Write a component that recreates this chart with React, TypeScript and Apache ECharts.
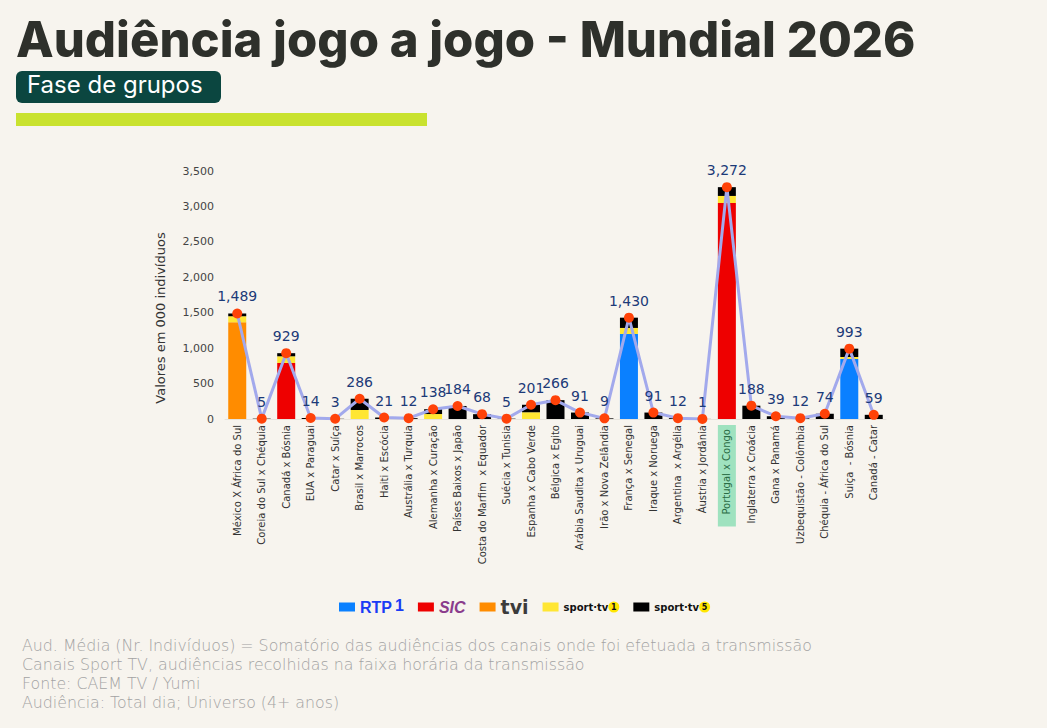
import React, { useEffect, useRef } from "react";
import * as echarts from "echarts";

const categories = [
  "México X África do Sul",
  "Coreia do Sul x Chéquia",
  "Canadá x Bósnia",
  "EUA x Paraguai",
  "Catar x Suíça",
  "Brasil x Marrocos",
  "Haiti x Escócia",
  "Austrália x Turquia",
  "Alemanha x Curação",
  "Países Baixos x Japão",
  "Costa do Marfim  x Equador",
  "Suécia x Tunisia",
  "Espanha x Cabo Verde",
  "Bélgica x Egito",
  "Arábia Saudita x Uruguai",
  "Irão x Nova Zelândia",
  "França x Senegal",
  "Iraque x Noruega",
  "Argentina  x Argélia",
  "Áustria x Jordânia",
  "Portugal x Congo",
  "Inglaterra x Croácia",
  "Gana x Panamá",
  "Uzbequistão - Colômbia",
  "Chéquia - África do Sul",
  "Suiça  - Bósnia",
  "Canadá - Catar",
];

const rtp1 = [0, 0, 0, 0, 0, 0, 0, 0, 0, 0, 0, 0, 0, 0, 0, 0, 1200, 0, 0, 0, 0, 0, 0, 0, 0, 847, 0];
const sic = [0, 0, 790, 0, 0, 0, 0, 0, 0, 0, 0, 0, 0, 0, 0, 0, 0, 0, 0, 0, 3048, 0, 0, 0, 0, 0, 0];
const tvi = [1365, 0, 0, 0, 0, 0, 0, 0, 0, 0, 0, 0, 0, 0, 0, 0, 0, 0, 0, 0, 0, 0, 0, 0, 0, 0, 0];
const sportTv1 = [85, 0, 95, 0, 0, 127, 0, 0, 70, 0, 0, 0, 95, 0, 0, 0, 85, 0, 0, 0, 100, 0, 0, 0, 0, 28, 0];
const sportTv5 = [39, 5, 44, 14, 3, 159, 21, 12, 68, 184, 68, 5, 106, 266, 91, 9, 145, 91, 12, 1, 124, 188, 39, 12, 74, 118, 59];
const totals = [1489, 5, 929, 14, 3, 286, 21, 12, 138, 184, 68, 5, 201, 266, 91, 9, 1430, 91, 12, 1, 3272, 188, 39, 12, 74, 993, 59];

const yTicks = [0, 500, 1000, 1500, 2000, 2500, 3000, 3500];
const highlighted = "Portugal x Congo";

const footerLines = [
  "Aud. Média (Nr. Indivíduos) = Somatório das audiências dos canais onde foi efetuada a transmissão",
  "Canais Sport TV, audiências recolhidas na faixa horária da transmissão",
  "Fonte: CAEM TV / Yumi",
  "Audiência: Total dia; Universo (4+ anos)",
];

const fmt = (v: number) => v.toLocaleString("en-US");

export default function App() {
  const ref = useRef<HTMLDivElement>(null);
  useEffect(() => {
    document.body.style.margin = "0";
    if (!ref.current) return;
    const chart = echarts.init(ref.current, null, { renderer: "svg" });
    const barSeries = (name: string, data: number[], color: string) => ({
      name,
      type: "bar",
      stack: "total",
      data,
      barWidth: 18,
      itemStyle: { color },
      emphasis: { disabled: true },
    });
    chart.setOption({
      animation: false,
      backgroundColor: "#f7f4ee",
      textStyle: { fontFamily: "DejaVu Sans" },
      graphic: [
        {
          type: "text",
          left: 16,
          top: 15,
          style: {
            text: "Audiência jogo a jogo - Mundial 2026",
            fontFamily: "Inter",
            fontWeight: 800,
            fontSize: 49,
            fill: "#2e302b",
          },
        },
        {
          type: "rect",
          shape: { x: 16, y: 71, width: 205, height: 32, r: 6 },
          style: { fill: "#0b4640" },
        },
        {
          type: "text",
          left: 27,
          top: 72,
          style: {
            text: "Fase de grupos",
            fontFamily: "Inter",
            fontWeight: 400,
            fontSize: 24,
            fill: "#ffffff",
          },
        },
        {
          type: "rect",
          shape: { x: 16, y: 113, width: 411, height: 13 },
          style: { fill: "#c9e22f" },
        },
        {
          type: "text",
          x: 160,
          y: 318,
          rotation: Math.PI / 2,
          style: {
            text: "Valores em 000 indivíduos",
            fontFamily: "DejaVu Sans",
            fontSize: 13,
            fill: "#333333",
            align: "center",
            verticalAlign: "middle",
          },
        },
        ...footerLines.map((t, i) => ({
          type: "text",
          left: 22,
          top: 637 + i * 19,
          style: {
            text: t,
            fontFamily: "DejaVu Sans",
            fontWeight: 200,
            fontSize: 15.8,
            fill: "#a3a3a3",
          },
        })),
      ],
      legend: {
        data: ["RTP1", "SIC", "TVI", "Sport TV 1", "Sport TV 5"],
        left: 334,
        top: 592,
        itemWidth: 16,
        itemHeight: 9,
        itemGap: 14,
        icon: "rect",
        selectedMode: false,
        formatter: (name: string) => {
          if (name === "RTP1") return "{rtp|RTP}{rtp1|1}";
          if (name === "SIC") return "{sic|SIC}";
          if (name === "TVI") return "{tvi|tvi}";
          if (name === "Sport TV 1") return "{sp|sport·tv}{n1|1}";
          return "{sp|sport·tv}{n5|5}";
        },
        textStyle: {
          rich: {
            rtp: { fontFamily: "Liberation Sans", fontWeight: "bold", fontSize: 16, color: "#1a3cf5" },
            rtp1: { fontFamily: "Liberation Sans", fontWeight: "bold", fontSize: 16, color: "#1a3cf5", padding: [0, 0, 4, 3] },
            sic: { fontFamily: "Liberation Sans", fontWeight: "bold", fontStyle: "italic", fontSize: 16, color: "#8a3c8c", padding: [0, 8, 0, 0] },
            tvi: { fontFamily: "DejaVu Sans", fontWeight: "bold", fontSize: 19, color: "#3b3b3b" },
            sp: { fontFamily: "DejaVu Sans", fontWeight: "bold", fontSize: 10, color: "#111111" },
            n1: { fontSize: 8, fontWeight: "bold", color: "#111", backgroundColor: "#ffe600", borderRadius: 6, width: 11, height: 11, align: "center", lineHeight: 11 },
            n5: { fontSize: 8, fontWeight: "bold", color: "#111", backgroundColor: "#ffe600", borderRadius: 6, width: 11, height: 11, align: "center", lineHeight: 11 },
          },
        },
      },
      grid: { left: 225, right: 161, top: 171, bottom: 309 },
      xAxis: {
        type: "category",
        data: categories,
        axisTick: { show: false },
        axisLine: { lineStyle: { color: "#e6e3dc", width: 1 } },
        axisLabel: {
          rotate: 90,
          interval: 0,
          fontSize: 10,
          color: "#333333",
          margin: 6,
          formatter: (v: string) => (v === highlighted ? `{hl|${v}}` : v),
          rich: {
            hl: {
              fontSize: 10,
              color: "#2a6b45",
              backgroundColor: "#9fe2bf",
              padding: [4, 4, 4, 12],
            },
          },
        },
      },
      yAxis: {
        type: "value",
        min: 0,
        max: 3500,
        interval: 500,
        axisLine: { show: false },
        axisTick: { show: false },
        splitLine: { show: false },
        axisLabel: {
          fontSize: 11,
          color: "#444444",
          margin: 11,
          formatter: (v: number) => (yTicks.includes(v) ? fmt(v) : ""),
        },
      },
      series: [
        barSeries("RTP1", rtp1, "#0a80ff"),
        barSeries("SIC", sic, "#ee0000"),
        barSeries("TVI", tvi, "#ff8c00"),
        barSeries("Sport TV 1", sportTv1, "#ffe633"),
        barSeries("Sport TV 5", sportTv5, "#000000"),
        {
          name: "Total",
          type: "line",
          data: totals,
          symbol: "circle",
          symbolSize: 10,
          lineStyle: { color: "#a2a9ec", width: 3 },
          itemStyle: { color: "#ff4208" },
          label: {
            show: true,
            position: "top",
            distance: 5,
            fontSize: 14,
            color: "#1c3a78",
            formatter: (p: any) => fmt(p.value),
          },
          emphasis: { disabled: true },
          z: 10,
        },
      ],
    });
    return () => chart.dispose();
  }, []);
  return <div ref={ref} style={{ width: 1047, height: 728 }} />;
}
